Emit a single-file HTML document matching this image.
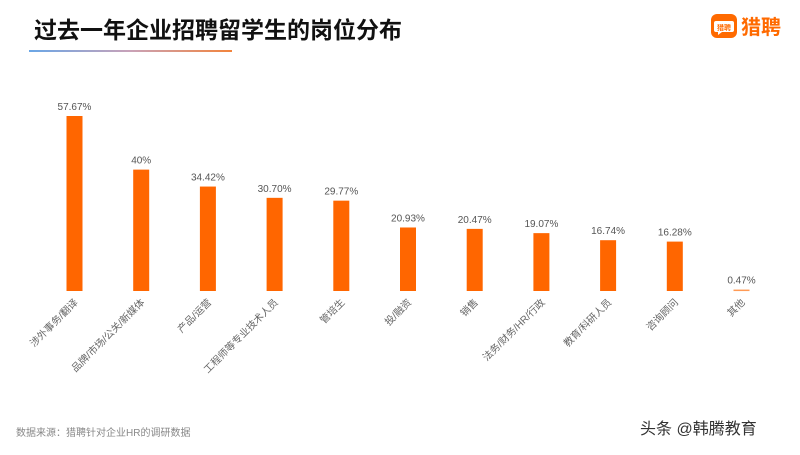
<!DOCTYPE html>
<html><head><meta charset="utf-8"><style>
body{margin:0;width:800px;height:450px;background:#fff;overflow:hidden;font-family:"Liberation Sans","Noto Sans CJK SC",sans-serif;}
</style></head><body>
<svg width="800" height="450" xmlns="http://www.w3.org/2000/svg">
<defs><linearGradient id="ul" x1="0" x2="1"><stop offset="0" stop-color="#6aa6e6"/><stop offset="0.5" stop-color="#c9a2b8"/><stop offset="1" stop-color="#f2843c"/></linearGradient></defs>
<text x="34" y="38" font-size="23" font-weight="bold" fill="#111" font-family="Liberation Sans,Noto Sans CJK SC,sans-serif">过去一年企业招聘留学生的岗位分布</text>
<rect x="29" y="50" width="203" height="2" fill="url(#ul)"/>
<g>
<rect x="711" y="14" width="26" height="24" rx="6" fill="#ff6a00"/>
<path d="M716 21 h16 a2 2 0 0 1 2 2 v7 a2 2 0 0 1 -2 2 h-10 l-4 3 v-3 h-2 a2 2 0 0 1 -2 -2 v-7 a2 2 0 0 1 2 -2z" fill="#fff"/>
<text x="724" y="30" font-size="7" text-anchor="middle" fill="#ff6a00" font-weight="bold">猎聘</text>
<text x="741" y="34" font-size="20" fill="#ff6a00" font-weight="bold">猎聘</text>
</g>
<g id="bars"></g>
<text x="16" y="436" font-size="10" fill="#888">数据来源：猎聘针对企业HR的调研数据</text>
<text x="640" y="434" font-size="16" fill="#333">头条 @韩腾教育</text>
</svg>
<script>
const categories=["涉外事务/翻译","品牌/市场/公关/新媒体","产品/运营","工程师等专业技术人员","管培生","投/融资","销售","法务/财务/HR/行政","教育/科研人员","咨询顾问","其他"];
const values=[57.67,40,34.42,30.70,29.77,20.93,20.47,19.07,16.74,16.28,0.47];
const valueLabels=["57.67%","40%","34.42%","30.70%","29.77%","20.93%","20.47%","19.07%","16.74%","16.28%","0.47%"];
const NS="http://www.w3.org/2000/svg";
const g=document.getElementById('bars');
const base=291, scale=175/57.67, x0=74.5, step=66.7, bw=16;
const xPos=i=>x0+i*step;
const yPos=v=>base-v*scale;
function mk(t,a){const e=document.createElementNS(NS,t);for(const k in a)e.setAttribute(k,a[k]);return e;}
values.forEach((v,i)=>{
  const cx=xPos(i), y=yPos(v);
  const r=mk('rect',{x:cx-bw/2,y:y,width:bw,height:Math.max(base-y,1.5),fill:i===values.length-1?'#ff9a55':'#ff6600'});
  
  
  g.appendChild(r);
  const t=mk('text',{x:cx,y:y-6,'font-size':10,'text-anchor':'middle',fill:'#555'});
  t.textContent=valueLabels[i];
  
  
  g.appendChild(t);
  const c=mk('text',{x:0,y:0,'font-size':10,'text-anchor':'end',fill:'#666',transform:`translate(${cx+4},${base+12}) rotate(-45)`});
  c.textContent=categories[i];
  
  
  g.appendChild(c);
});
</script>
</body></html>
